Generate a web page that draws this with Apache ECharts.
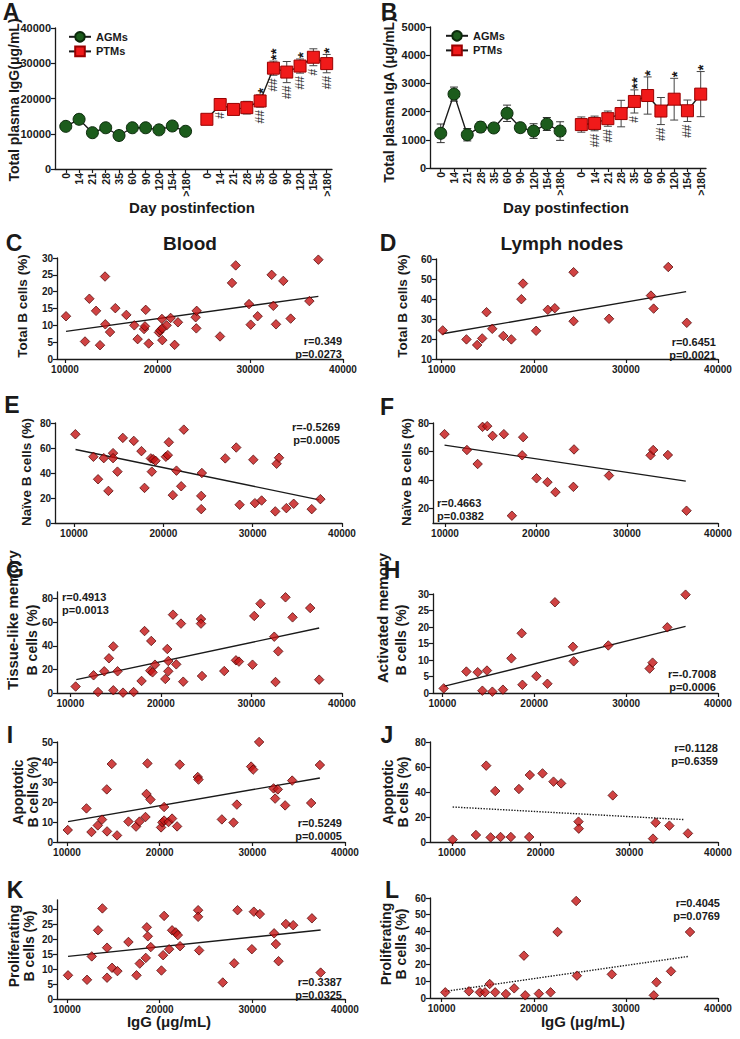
<!DOCTYPE html>
<html>
<head>
<meta charset="utf-8">
<script src="https://cdn.jsdelivr.net/npm/echarts@6/dist/echarts.min.js"></script>
<style>
  html, body { margin: 0; background: #fff; }
  #fig { width: 740px; height: 1039px; }
</style>
</head>
<body>
<div id="fig"></div>
<script>
// ---- time course (A, B) ----
const days = ['0', '14', '21', '28', '35', '60', '90', '120', '154', '>180'];

const iggAgm = [12100, 14100, 10300, 11700, 9500, 11700, 11700, 11100, 12200, 10700];
const iggAgmErr = [600, 700, 500, 600, 500, 600, 600, 600, 1100, 500];
const iggPtm = [14100, 18300, 16900, 17400, 19300, 28600, 27500, 29200, 31700, 29900];
const iggPtmErr = [600, 1300, 1200, 1800, 1750, 2000, 3000, 2000, 2400, 2600];
const iggStars = ['', '', '', '', '*', '**', '', '*', '', '*'];
const iggHash = ['', '#', '', '', '##', '##', '##', '##', '#', '##'];

const igaAgm = [1230, 2620, 1180, 1450, 1420, 1940, 1430, 1310, 1560, 1310];
const igaAgmErr = [330, 250, 220, 180, 160, 290, 160, 260, 230, 330];
const igaPtm = [1540, 1580, 1750, 1930, 2360, 2570, 2020, 2440, 2030, 2620];
const igaPtmErr = [270, 260, 270, 470, 410, 660, 480, 740, 380, 800];
const igaStars = ['', '', '', '', '**', '*', '', '*', '', '*'];
const igaHash = ['', '##', '##', '', '#', '', '##', '', '##', ''];

// ---- correlations: x = plasma IgG, y = % of B cells ----
const xTicks = [10000, 20000, 30000, 40000];

const cIgG = [10110, 12160, 12630, 13350, 13780, 14320, 14350, 14860, 15430, 16620, 17480, 17840, 18530, 18630, 18710, 19030, 20140, 20280, 20500, 20460, 20500, 20970, 21400, 21830, 22190, 24100, 24210, 24170, 26730, 28020, 28420, 29860, 30040, 30790, 32300, 32480, 32770, 33560, 34350, 36370, 37340];
const cTotal = [12.7, 5.2, 17.9, 14.3, 4.1, 24.5, 10.3, 8.0, 15.1, 13.1, 10.0, 5.9, 8.9, 9.7, 14.6, 4.6, 7.9, 8.5, 9.1, 11.9, 5.6, 10.0, 12.2, 4.2, 10.9, 12.4, 14.3, 9.1, 6.7, 22.6, 27.8, 16.3, 10.2, 12.7, 25.0, 15.8, 10.3, 23.2, 12.0, 17.2, 29.5];
const cFitX = [10110, 37340], cFitY = [8.2, 18.6];
const cTicks = [0, 5, 10, 15, 20, 25, 30];

const dIgG = [10110, 12690, 13850, 14400, 14870, 15490, 16690, 17560, 18650, 18830, 20250, 21520, 22280, 24320, 24320, 28170, 32720, 33010, 34600, 36610];
const dTotal = [24.3, 19.8, 17.0, 20.3, 33.4, 25.1, 21.5, 19.8, 39.9, 47.7, 24.1, 34.6, 35.4, 53.4, 28.9, 30.1, 41.7, 35.2, 56.0, 28.1];
const dFitX = [10080, 36540], dFitY = [22.6, 43.7];
const dTicks = [10, 20, 30, 40, 50, 60];

const eIgG = [10150, 12170, 12690, 13330, 13850, 14370, 14370, 14860, 15460, 16690, 17550, 17890, 18600, 18710, 18860, 19120, 20280, 20500, 20610, 21060, 21470, 22000, 22290, 24310, 24240, 24240, 26930, 28160, 28540, 30070, 30250, 31000, 32530, 32680, 32950, 33770, 34590, 36610, 37580];
const eNaive = [71.0, 53.0, 35.0, 51.9, 25.7, 55.9, 51.9, 41.1, 68.1, 65.7, 57.5, 28.1, 51.7, 41.1, 51.1, 49.8, 53.0, 54.3, 64.6, 22.3, 41.9, 29.4, 74.7, 40.0, 21.7, 11.1, 51.7, 60.4, 14.6, 50.6, 15.9, 18.0, 9.3, 47.4, 52.2, 11.9, 15.4, 11.1, 19.1];
const eFitX = [10170, 37450], eFitY = [58.8, 18.5];
const eTicks = [0, 20, 40, 60, 80];

const fIgG = [9950, 12410, 13590, 14130, 14640, 15230, 16470, 17350, 18480, 18590, 20060, 21260, 22140, 24110, 24180, 28020, 32590, 32880, 34490, 36540];
const fNaive = [72.2, 61.1, 51.3, 77.3, 77.8, 71.0, 72.2, 15.1, 57.4, 70.1, 41.3, 38.6, 31.6, 35.3, 61.5, 43.2, 57.4, 61.1, 57.6, 18.6];
const fFitX = [9950, 36460], fFitY = [64.5, 39.3];
const fTicks = [20, 40, 60, 80];

const gIgG = [10590, 12570, 13750, 14270, 14750, 15220, 17870, 18200, 18830, 18940, 19080, 19350, 20490, 20710, 20820, 20820, 21340, 21700, 22220, 22470, 24430, 24430, 24540, 27000, 28290, 28620, 30120, 30310, 31000, 32520, 32660, 32960, 33760, 34540, 36490, 37480, 13060, 14750, 15820, 16990];
const gTissue = [5.5, 15.0, 18.4, 29.4, 39.5, 18.4, 10.2, 52.5, 18.9, 44.1, 17.5, 24.0, 11.9, 37.3, 27.1, 18.4, 66.4, 24.3, 58.8, 9.6, 62.7, 58.8, 14.4, 18.6, 27.7, 26.6, 24.0, 65.3, 75.7, 47.7, 9.3, 35.3, 81.1, 64.1, 72.0, 11.3, 0.8, 2.3, 0.3, 0.8];
const gFitX = [10660, 37480], gFitY = [11.3, 55.1];
const gTicks = [0, 20, 40, 60, 80];

const hIgG = [10140, 12610, 13840, 14850, 14350, 15440, 16590, 17510, 18630, 18710, 20230, 21430, 22250, 24210, 24290, 28060, 32560, 32880, 34480, 36470];
const hActivated = [1.4, 6.5, 6.3, 6.8, 0.7, 0.4, 1.0, 10.5, 18.1, 2.5, 5.1, 2.8, 27.5, 14.0, 9.6, 14.4, 7.4, 9.2, 19.9, 29.8];
const hFitX = [10140, 36470], hFitY = [2.0, 20.2];
const hTicks = [0, 5, 10, 15, 20, 25, 30];

const iIgG = [10080, 12100, 12640, 13320, 13780, 14290, 14320, 14830, 15400, 16630, 17450, 17820, 18470, 18580, 18680, 19010, 20150, 20300, 20480, 20480, 20950, 21340, 21880, 22170, 24110, 24190, 26710, 27970, 28330, 29870, 30090, 30730, 32290, 32460, 32750, 33540, 34300, 36350, 37290];
const iApoptotic = [6.0, 16.8, 5.0, 8.3, 11.2, 26.3, 5.3, 39.0, 3.3, 10.2, 7.7, 10.2, 12.5, 24.0, 39.3, 21.2, 7.3, 9.8, 17.5, 10.7, 10.0, 11.7, 7.8, 38.7, 32.5, 31.2, 11.3, 9.7, 18.7, 37.7, 36.2, 50.0, 26.8, 21.7, 26.3, 18.3, 30.7, 19.5, 38.5];
const iFitX = [10110, 37290], iFitY = [10.2, 32.0];
const iTicks = [0, 10, 20, 30, 40, 50];

const jIgG = [10080, 12700, 13860, 14360, 14880, 15480, 16640, 17550, 18710, 18780, 20210, 21450, 22310, 24270, 24300, 28130, 32670, 32970, 34520, 36610];
const jApoptotic = [1.9, 5.6, 61.1, 3.7, 40.8, 4.0, 4.0, 42.4, 4.0, 53.6, 54.9, 48.3, 46.9, 16.3, 10.7, 37.3, 2.7, 15.5, 13.1, 6.9];
const jFitX = [10080, 36240], jFitY = [28.0, 17.9];
const jTicks = [0, 20, 40, 60, 80];

const kIgG = [10110, 12160, 12670, 13350, 13820, 14320, 14320, 14860, 15440, 16630, 17500, 17850, 18500, 18610, 18720, 19040, 20190, 20370, 20480, 21020, 21340, 21740, 21960, 22200, 24150, 24150, 24260, 26810, 28040, 28400, 29950, 30160, 30810, 32350, 32540, 32830, 33620, 34410, 36430, 37370];
const kProlif = [7.9, 6.4, 14.2, 22.9, 30.2, 17.1, 7.1, 10.4, 9.3, 19.0, 7.9, 11.8, 13.7, 23.9, 20.9, 17.3, 9.5, 14.6, 27.7, 16.6, 22.9, 22.2, 21.3, 17.6, 29.6, 27.4, 16.2, 5.5, 11.9, 29.6, 16.6, 29.1, 28.3, 21.9, 18.3, 12.6, 25.0, 24.6, 26.9, 8.8];
const kFitX = [10110, 37370], kFitY = [14.2, 23.0];
const kTicks = [0, 5, 10, 15, 20, 25, 30];

const lIgG = [10390, 12960, 14150, 14700, 15210, 15810, 16970, 17870, 18930, 19070, 20550, 21820, 22580, 24600, 24680, 28470, 33030, 33320, 34900, 36960];
const lProlif = [3.4, 4.0, 3.4, 3.4, 8.4, 3.4, 2.4, 5.8, 25.4, 1.6, 2.6, 3.4, 39.6, 58.2, 13.4, 14.2, 1.6, 9.4, 16.0, 39.6];
const lFitX = [10390, 36860], lFitY = [4.0, 25.0];
const lTicks = [0, 10, 20, 30, 40, 50, 60];

// ---------------------------------------------------------------
const FONT = 'Liberation Sans, Arial, sans-serif';
const INK = '#1a1a1a';
const RED = '#c41414';

const grids = [], xAxes = [], yAxes = [], series = [], graphics = [];

// day slots on the x axis: AGMs 0..9, a gap, PTMs after it
const agmPos = days.map((d, i) => i);
const ptmPos = days.map((d, i) => i + 10.6);
const allPos = agmPos.concat(ptmPos);
function dayLabel(v) {
  const i = allPos.findIndex(p => Math.abs(p - v) < 0.01);
  return i < 0 ? '' : days[i % days.length];
}

function axisLine() { return { show: true, onZero: false, lineStyle: { color: INK, width: 1.3 } }; }
function axisTick(values) { return { show: true, length: 4, customValues: values, lineStyle: { color: INK, width: 1.2 } }; }
function axisLabel(values, extra) {
  return Object.assign({ customValues: values, color: INK, fontFamily: FONT, fontWeight: 'bold', fontSize: 10, margin: 4 }, extra || {});
}

function errorBars(g, xs, ys, errs, color) {
  return {
    type: 'custom', xAxisIndex: g, yAxisIndex: g, silent: true, z: 2,
    data: xs.map((x, i) => [x, ys[i] - errs[i], ys[i] + errs[i]]),
    encode: { x: 0, y: [1, 2] },
    renderItem: (params, api) => {
      const lo = api.coord([api.value(0), api.value(1)]);
      const hi = api.coord([api.value(0), api.value(2)]);
      const w = 4, st = { stroke: color, lineWidth: 1 };
      return {
        type: 'group', children: [
          { type: 'line', shape: { x1: hi[0], y1: hi[1], x2: lo[0], y2: lo[1] }, style: st },
          { type: 'line', shape: { x1: hi[0] - w, y1: hi[1], x2: hi[0] + w, y2: hi[1] }, style: st },
          { type: 'line', shape: { x1: lo[0] - w, y1: lo[1], x2: lo[0] + w, y2: lo[1] }, style: st }
        ]
      };
    }
  };
}

// significance marks as rotated text: stars above the bar, hashes below
function marks(g, xs, ys, errs, stars, hashes) {
  return {
    type: 'custom', xAxisIndex: g, yAxisIndex: g, silent: true, z: 6,
    data: xs.map((x, i) => [x, ys[i] - errs[i], ys[i] + errs[i]]),
    encode: { x: 0, y: [1, 2] },
    renderItem: (params, api) => {
      const i = params.dataIndex;
      const lo = api.coord([api.value(0), api.value(1)]);
      const hi = api.coord([api.value(0), api.value(2)]);
      return {
        type: 'group', children: [
          { type: 'text', x: hi[0] + 2, y: hi[1] - 1, rotation: Math.PI / 2,
            style: { text: stars[i], fill: INK, font: 'bold 15px ' + FONT, align: 'left', verticalAlign: 'middle' } },
          { type: 'text', x: lo[0], y: lo[1] + 3, rotation: Math.PI / 2,
            style: { text: hashes[i], fill: '#2a2a2a', font: '12px ' + FONT, align: 'right', verticalAlign: 'middle' } }
        ]
      };
    }
  };
}

function addCourse(g, L, yTicks, agm, agmErr, ptm, ptmErr, stars, hashes) {
  grids.push({ left: L.left, top: L.top, width: L.width, height: L.height });
  xAxes.push({
    type: 'value', gridIndex: g, min: -0.81, max: 20,
    axisLine: axisLine(), axisTick: axisTick(allPos), splitLine: { show: false },
    axisLabel: axisLabel(allPos, { rotate: 90, fontSize: 10.5, formatter: dayLabel })
  });
  yAxes.push({
    type: 'value', gridIndex: g, min: 0, max: yTicks[yTicks.length - 1],
    axisLine: axisLine(), axisTick: axisTick(yTicks), splitLine: { show: false },
    axisLabel: axisLabel(yTicks, { fontSize: 11, formatter: v => String(v) })
  });
  series.push(errorBars(g, agmPos, agm, agmErr, '#333'));
  series.push(errorBars(g, ptmPos, ptm, ptmErr, '#444'));
  series.push({
    name: 'AGMs', type: 'line', xAxisIndex: g, yAxisIndex: g, z: 4,
    data: agmPos.map((x, i) => [x, agm[i]]),
    symbol: 'circle', symbolSize: 12,
    itemStyle: { color: '#1c5c1c', borderColor: '#0b2a0b', borderWidth: 1 },
    lineStyle: { color: INK, width: 1.4 }
  });
  series.push({
    name: 'PTMs', type: 'line', xAxisIndex: g, yAxisIndex: g, z: 4,
    data: ptmPos.map((x, i) => [x, ptm[i]]),
    symbol: 'rect', symbolSize: 12,
    itemStyle: { color: '#f01a1a', borderColor: '#9a0000', borderWidth: 1 },
    lineStyle: { color: INK, width: 1.4 }
  });
  series.push(marks(g, ptmPos, ptm, ptmErr, stars, hashes));
}

function addScatter(g, L, xs, ys, fitX, fitY, yTicks, dotted) {
  grids.push({ left: L.left, top: L.top, width: L.width, height: L.height });
  xAxes.push({
    type: 'value', gridIndex: g, min: L.xMin, max: 40000,
    axisLine: axisLine(), axisTick: axisTick(xTicks), splitLine: { show: false },
    axisLabel: axisLabel(xTicks, { margin: 5, formatter: v => String(v) })
  });
  yAxes.push({
    type: 'value', gridIndex: g, min: L.yMin, max: L.yMax,
    axisLine: axisLine(), axisTick: axisTick(yTicks), splitLine: { show: false },
    axisLabel: axisLabel(yTicks, { formatter: v => String(v) })
  });
  series.push({
    type: 'line', xAxisIndex: g, yAxisIndex: g, silent: true, z: 2,
    data: fitX.map((x, i) => [x, fitY[i]]), symbol: 'none',
    lineStyle: { color: INK, width: 1.4, type: dotted ? 'dotted' : 'solid' }
  });
  series.push({
    type: 'scatter', xAxisIndex: g, yAxisIndex: g, z: 3,
    data: xs.map((x, i) => [x, ys[i]]),
    symbol: 'diamond', symbolSize: 9.5,
    itemStyle: { color: RED, borderColor: '#4a0000', borderWidth: 0.9 }
  });
}

function text(x, y, str, size, opts) {
  opts = opts || {};
  const align = opts.align || 'center';
  graphics.push({
    type: 'text', x: x, y: y, rotation: opts.rotate ? Math.PI / 2 : 0, silent: true,
    style: {
      text: str, fill: INK, font: 'bold ' + size + 'px ' + FONT,
      align: align, textAlign: align, verticalAlign: 'middle', textVerticalAlign: 'middle',
      lineHeight: opts.lineHeight || Math.round(size * 1.2)
    }
  });
}

// panels
addCourse(0, { left: 55, top: 28, width: 277, height: 141 }, [0, 10000, 20000, 30000, 40000],
  iggAgm, iggAgmErr, iggPtm, iggPtmErr, iggStars, iggHash);
addCourse(1, { left: 430, top: 27, width: 276, height: 141 }, [0, 1000, 2000, 3000, 4000, 5000],
  igaAgm, igaAgmErr, igaPtm, igaPtmErr, igaStars, igaHash);

addScatter(2, { left: 57, top: 258, width: 286, height: 101, xMin: 9137, yMin: 0, yMax: 30 }, cIgG, cTotal, cFitX, cFitY, cTicks);
addScatter(3, { left: 436, top: 259, width: 282, height: 100, xMin: 9382, yMin: 10, yMax: 60 }, dIgG, dTotal, dFitX, dFitY, dTicks);
addScatter(4, { left: 55, top: 423, width: 287, height: 100, xMin: 7870, yMin: 0, yMax: 80 }, eIgG, eNaive, eFitX, eFitY, eTicks);
addScatter(5, { left: 433, top: 423, width: 285, height: 100, xMin: 8683, yMin: 10, yMax: 80 }, fIgG, fNaive, fFitX, fFitY, fTicks);
addScatter(6, { left: 57, top: 592, width: 285, height: 101, xMin: 8532, yMin: 0, yMax: 85.6 }, gIgG, gTissue, gFitX, gFitY, gTicks);
addScatter(7, { left: 433, top: 594, width: 285, height: 99, xMin: 8977, yMin: 0, yMax: 30 }, hIgG, hActivated, hFitX, hFitY, hTicks);
addScatter(8, { left: 57, top: 742, width: 288, height: 100, xMin: 8920, yMin: 0, yMax: 50 }, iIgG, iApoptotic, iFitX, iFitY, iTicks);
addScatter(9, { left: 430, top: 742, width: 288, height: 100, xMin: 7523, yMin: 0, yMax: 80 }, jIgG, jApoptotic, jFitX, jFitY, jTicks, true);
addScatter(10, { left: 57, top: 900, width: 288, height: 99, xMin: 8920, yMin: 0, yMax: 33 }, kIgG, kProlif, kFitX, kFitY, kTicks);
addScatter(11, { left: 430, top: 898, width: 288, height: 100, xMin: 8731, yMin: 0, yMax: 60 }, lIgG, lProlif, lFitX, lFitY, lTicks, true);

// panel letters
[['A', 11, 12], ['B', 389, 12], ['C', 14, 243], ['D', 388, 243], ['E', 12, 405], ['F', 387, 407],
 ['G', 15, 570], ['H', 392, 570], ['I', 10, 735], ['J', 387, 735], ['K', 15, 890], ['L', 392, 890]]
  .forEach(t => text(t[1], t[2], t[0], 23));

// titles and axis names
text(190, 243, 'Blood', 19);
text(562, 243, 'Lymph nodes', 19);
text(192, 207, 'Day postinfection', 15);
text(566, 207, 'Day postinfection', 15);
text(169, 1021, 'IgG (\u03bcg/mL)', 15);
text(583, 1021, 'IgG (\u03bcg/mL)', 15);

text(14, 100, 'Total plasma IgG(\u03bcg/mL)', 14, { rotate: true });
text(389, 100, 'Total plasma IgA (\u03bcg/mL)', 14, { rotate: true });
text(22, 306, 'Total B cells (%)', 13.5, { rotate: true });
text(402, 306, 'Total B cells (%)', 13.5, { rotate: true });
text(26, 472, 'Na\u00efve B cells (%)', 13.5, { rotate: true });
text(406, 472, 'Na\u00efve B cells (%)', 13.5, { rotate: true });
text(12, 620, 'Tissue-like memory', 15, { rotate: true });
text(32, 640, 'B cells (%)', 14, { rotate: true });
text(382, 618, 'Activated memory', 15, { rotate: true });
text(401, 640, 'B cells (%)', 14, { rotate: true });
text(25, 792, 'Apoptotic\nB cells (%)', 14, { rotate: true, lineHeight: 15 });
text(395, 792, 'Apoptotic\nB cells (%)', 14, { rotate: true, lineHeight: 15 });
text(21, 946, 'Proliferating\nB cells (%)', 14, { rotate: true, lineHeight: 15 });
text(393, 944, 'Proliferating\nB cells (%)', 14, { rotate: true, lineHeight: 15 });

// statistics
text(342, 347, 'r=0.349\np=0.0273', 11, { align: 'right', lineHeight: 13 });
text(716, 348, 'r=0.6451\np=0.0021', 11, { align: 'right', lineHeight: 13 });
text(340, 433, 'r=-0.5269\np=0.0005', 11, { align: 'right', lineHeight: 13 });
text(437, 509, 'r=0.4663\np=0.0382', 11, { align: 'left', lineHeight: 13 });
text(62, 603, 'r=0.4913\np=0.0013', 11, { align: 'left', lineHeight: 13 });
text(716, 680, 'r=-0.7008\np=0.0006', 11, { align: 'right', lineHeight: 13 });
text(342, 829, 'r=0.5249\np=0.0005', 11, { align: 'right', lineHeight: 13 });
text(718, 754, 'r=0.1128\np=0.6359', 11, { align: 'right', lineHeight: 13 });
text(342, 988, 'r=0.3387\np=0.0325', 11, { align: 'right', lineHeight: 13 });
text(720, 909, 'r=0.4045\np=0.0769', 11, { align: 'right', lineHeight: 13 });

const legendText = { fontWeight: 'bold', fontSize: 11, color: INK, fontFamily: FONT };
const chart = echarts.init(document.getElementById('fig'), null, { renderer: 'svg' });
chart.setOption({
  animation: false,
  backgroundColor: '#fff',
  textStyle: { fontFamily: FONT },
  legend: [
    { data: ['AGMs', 'PTMs'], left: 63, top: 26, orient: 'vertical', itemWidth: 22, itemHeight: 12, itemGap: 3, selectedMode: false, textStyle: legendText },
    { data: ['AGMs', 'PTMs'], left: 440, top: 25, orient: 'vertical', itemWidth: 22, itemHeight: 12, itemGap: 3, selectedMode: false, textStyle: legendText }
  ],
  grid: grids,
  xAxis: xAxes,
  yAxis: yAxes,
  series: series,
  graphic: graphics
});
</script>
</body>
</html>
